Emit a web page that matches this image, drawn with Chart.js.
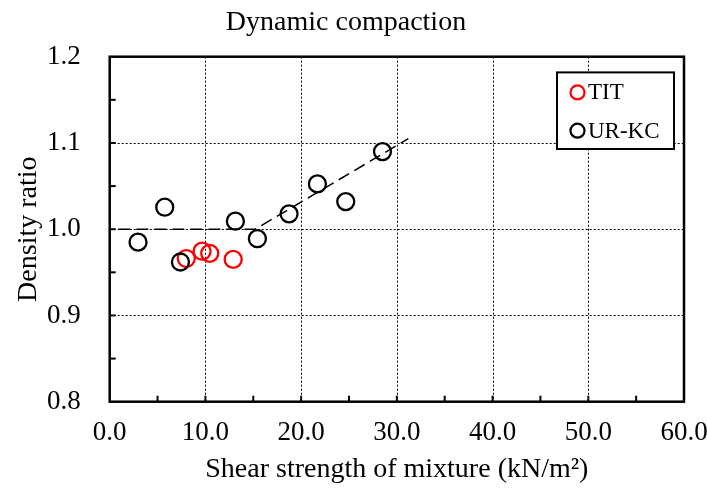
<!DOCTYPE html>
<html>
<head>
<meta charset="utf-8">
<script src="https://cdn.jsdelivr.net/npm/chart.js@4"></script>
<style>
  html, body { margin: 0; padding: 0; background: #fff; }
  #wrap { width: 707px; height: 488px; }
</style>
</head>
<body>
<div id="wrap"><canvas id="c" width="707" height="488"></canvas></div>
<script>
// ---- data ----
const chartTitle = 'Dynamic compaction';
const xTitle = 'Shear strength of mixture (kN/m\u00B2)';
const yTitle = 'Density ratio';
const seriesNames = ['TIT', 'UR-KC'];
const titX = [8.0, 9.65, 10.45, 12.9];
const titY = [0.966, 0.9745, 0.972, 0.965];
const urX = [2.96, 5.75, 7.39, 13.13, 15.43, 18.74, 21.7, 24.66, 28.5];
const urY = [0.985, 1.0255, 0.962, 1.0093, 0.989, 1.0178, 1.0525, 1.032, 1.090];
const trendX = [0.9, 15.2, 31.2];
const trendY = [1.0, 1.0, 1.105];
const xRange = [0, 60];
const yRange = [0.8, 1.2];
const xStep = 10, xMinorStep = 5;
const yStep = 0.1, yMinorStep = 0.05;

const FONT = "'Liberation Serif', 'Times New Roman', serif";
const toPts = (xs, ys) => xs.map((x, i) => ({ x: x, y: ys[i] }));

const framePlugin = {
  id: 'frame',
  beforeDatasetsDraw(chart) {
    const { ctx, chartArea: a, scales: { x, y } } = chart;
    ctx.save();
    // dotted grid
    ctx.strokeStyle = '#000';
    ctx.lineWidth = 1;
    ctx.setLineDash([2, 2]);
    for (let v = xRange[0] + xStep; v < xRange[1] - 1e-9; v += xStep) {
      const px = Math.round(x.getPixelForValue(v)) + 0.5;
      ctx.beginPath(); ctx.moveTo(px, a.top); ctx.lineTo(px, a.bottom); ctx.stroke();
    }
    for (let k = 1; yRange[0] + k * yStep < yRange[1] - 1e-9; k++) {
      const py = Math.round(y.getPixelForValue(yRange[0] + k * yStep)) + 0.5;
      ctx.beginPath(); ctx.moveTo(a.left, py); ctx.lineTo(a.right, py); ctx.stroke();
    }
    ctx.setLineDash([]);
    // inward ticks
    ctx.lineWidth = 2;
    for (let k = 1; xRange[0] + k * xMinorStep < xRange[1] - 1e-9; k++) {
      const px = x.getPixelForValue(xRange[0] + k * xMinorStep);
      ctx.beginPath(); ctx.moveTo(px, a.bottom); ctx.lineTo(px, a.bottom - 6); ctx.stroke();
    }
    for (let k = 1; yRange[0] + k * yMinorStep < yRange[1] - 1e-9; k++) {
      const py = y.getPixelForValue(yRange[0] + k * yMinorStep);
      ctx.beginPath(); ctx.moveTo(a.left, py); ctx.lineTo(a.left + 6, py); ctx.stroke();
    }
    // frame
    ctx.lineWidth = 2.5;
    ctx.strokeRect(a.left, a.top, a.right - a.left, a.bottom - a.top);
    ctx.restore();
  },
  afterDraw(chart) {
    const { ctx, chartArea: a } = chart;
    const bw = 117, bh = 76.6;
    const bx = a.right - 10 - bw, by = a.top + 15.7;
    ctx.save();
    ctx.fillStyle = '#fff';
    ctx.fillRect(bx, by, bw, bh);
    ctx.strokeStyle = '#000';
    ctx.lineWidth = 2;
    ctx.strokeRect(bx, by, bw, bh);
    const colors = ['#ff0000', '#000000'];
    const rows = [20, 58.3];
    ctx.font = '23px ' + FONT;
    ctx.textBaseline = 'middle';
    ctx.textAlign = 'left';
    seriesNames.forEach((name, i) => {
      const cy = by + rows[i];
      ctx.beginPath();
      ctx.lineWidth = 2.2;
      ctx.strokeStyle = colors[i];
      ctx.arc(bx + 20.5, cy, 7, 0, Math.PI * 2);
      ctx.stroke();
      ctx.fillStyle = '#000';
      ctx.fillText(name, bx + 31, cy + 1);
    });
    ctx.restore();
  }
};

new Chart(document.getElementById('c'), {
  type: 'scatter',
  data: {
    datasets: [
      {
        label: seriesNames[1],
        data: toPts(urX, urY),
        borderColor: '#000',
        backgroundColor: 'rgba(0,0,0,0)',
        pointRadius: 8.5,
        pointBorderWidth: 2.3,
        pointHoverRadius: 8.5,
        order: 1
      },
      {
        label: seriesNames[0],
        data: toPts(titX, titY),
        borderColor: '#ff0000',
        backgroundColor: 'rgba(0,0,0,0)',
        pointRadius: 8.5,
        pointBorderWidth: 2.3,
        pointHoverRadius: 8.5,
        order: 2
      },
      {
        type: 'line',
        label: 'trend',
        data: toPts(trendX, trendY),
        borderColor: '#000',
        borderWidth: 1.5,
        borderDash: [12, 6],
        pointRadius: 0,
        fill: false,
        tension: 0,
        order: 3
      }
    ]
  },
  plugins: [framePlugin],
  options: {
    responsive: false,
    animation: false,
    events: [],
    layout: { padding: { left: 8, right: 23, top: 0, bottom: 0 } },
    plugins: {
      legend: { display: false },
      tooltip: { enabled: false },
      title: {
        display: true,
        text: chartTitle,
        color: '#000',
        font: { family: FONT, size: 28, weight: 'normal' },
        padding: { top: 5.5, bottom: 17.6 }
      }
    },
    scales: {
      x: {
        type: 'linear',
        min: xRange[0], max: xRange[1],
        afterFit(s) { s.height = 86.3; s.paddingLeft = 0; s.paddingRight = 0; },
        grid: { display: false, drawTicks: false },
        border: { display: false },
        ticks: {
          stepSize: xStep,
          color: '#000',
          padding: 14.8,
          maxRotation: 0,
          font: { family: FONT, size: 27 },
          callback: v => Number(v).toFixed(1)
        },
        title: {
          display: true,
          text: xTitle,
          color: '#000',
          font: { family: FONT, size: 28 },
          padding: { top: 0, bottom: 1.2 }
        }
      },
      y: {
        type: 'linear',
        min: yRange[0], max: yRange[1],
        afterFit(s) { s.width = 101.7; s.paddingTop = 0; s.paddingBottom = 0; },
        grid: { display: false, drawTicks: false },
        border: { display: false },
        ticks: {
          stepSize: yStep,
          color: '#000',
          padding: 29,
          font: { family: FONT, size: 27 },
          callback: v => Number(v).toFixed(1)
        },
        title: {
          display: true,
          text: yTitle,
          color: '#000',
          font: { family: FONT, size: 28 },
          padding: { top: 3.5, bottom: 0 }
        }
      }
    }
  }
});
</script>
</body>
</html>
